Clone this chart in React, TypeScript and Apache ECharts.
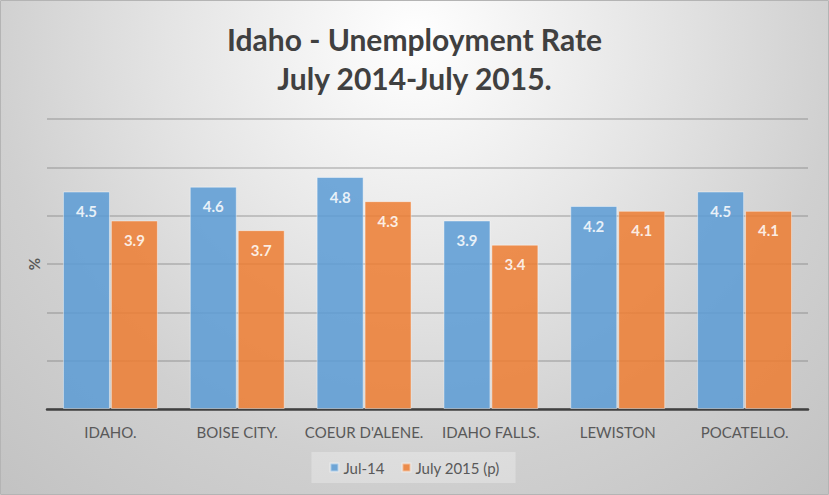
import React, { useEffect, useRef } from "react";
import * as echarts from "echarts";

const categories = ["IDAHO.", "BOISE CITY.", "COEUR D'ALENE.", "IDAHO FALLS.", "LEWISTON", "POCATELLO."];
const seriesNames = ["Jul-14", "July 2015 (p)"];
const jul14 = [4.5, 4.6, 4.8, 3.9, 4.2, 4.5];
const jul15 = [3.9, 3.7, 4.3, 3.4, 4.1, 4.1];
const titleLines = ["Idaho - Unemployment Rate", "July 2014-July 2015."];

const FONT = "Lato, 'Open Sans', sans-serif";

export default function App() {
  const ref = useRef<HTMLDivElement>(null);
  useEffect(() => {
    document.body.style.margin = "0";
    if (!ref.current) return;
    const chart = echarts.init(ref.current, undefined, { renderer: "svg" });
    const barLabel = {
      show: true,
      position: "insideTop",
      distance: 12,
      color: "#ffffff",
      fontFamily: FONT,
      fontWeight: "bold",
      fontSize: 15,
      formatter: (p: any) => p.value.toFixed(1),
    };
    chart.setOption({
      animation: false,
      graphic: [
        {
          type: "rect",
          z: -100,
          silent: true,
          shape: { x: 0.5, y: 0.5, width: 828, height: 494 },
          style: {
            fill: new echarts.graphic.RadialGradient(415, 40, 620, [
              { offset: 0, color: "#ffffff" },
              { offset: 0.4, color: "#e4e4e4" },
              { offset: 0.68, color: "#d0d0d0" },
              { offset: 1, color: "#c2c2c2" },
            ], true),
            stroke: "#b4b4b4",
            lineWidth: 1,
          },
        },
      ],
      title: {
        text: titleLines.join("\n"),
        left: "center",
        top: 14,
        textStyle: {
          fontFamily: FONT,
          fontWeight: "bold",
          fontSize: 30,
          lineHeight: 39,
          color: "#404040",
        },
      },
      legend: {
        data: seriesNames,
        left: "center",
        top: 452,
        icon: "rect",
        itemWidth: 8,
        itemHeight: 8,
        itemGap: 17,
        padding: [8, 16, 8, 18],
        backgroundColor: "rgba(255,255,255,0.28)",
        textStyle: { fontFamily: FONT, fontSize: 15, color: "#595959" },
      },
      grid: { left: 47, right: 21, top: 119, bottom: 86, containLabel: false },
      xAxis: {
        type: "category",
        data: categories,
        axisLine: { lineStyle: { color: "#404040", width: 2.5 } },
        axisTick: { show: false },
        axisLabel: { interval: 0, fontFamily: FONT, fontSize: 15, color: "#595959", margin: 15 },
      },
      yAxis: {
        type: "value",
        min: 0,
        max: 6,
        interval: 1,
        name: "%",
        nameLocation: "middle",
        nameGap: 6,
        nameTextStyle: { fontFamily: FONT, fontSize: 15, fontWeight: "bold", color: "#595959" },
        axisLabel: { show: false },
        axisLine: { show: false },
        axisTick: { show: false },
        splitLine: { lineStyle: { color: "rgba(120,120,120,0.45)", width: 1.5 } },
      },
      series: [
        {
          name: seriesNames[0],
          type: "bar",
          data: jul14,
          barWidth: 47,
          barGap: "2%",
          itemStyle: { color: "#5B9BD5", opacity: 0.85, borderColor: "rgba(255,255,255,0.5)", borderWidth: 1 },
          label: barLabel,
        },
        {
          name: seriesNames[1],
          type: "bar",
          data: jul15,
          barWidth: 47,
          barGap: "2%",
          itemStyle: { color: "#ED7D31", opacity: 0.85, borderColor: "rgba(255,255,255,0.5)", borderWidth: 1 },
          label: barLabel,
        },
      ],
    });
    return () => chart.dispose();
  }, []);
  return <div ref={ref} style={{ width: 829, height: 495 }} />;
}
